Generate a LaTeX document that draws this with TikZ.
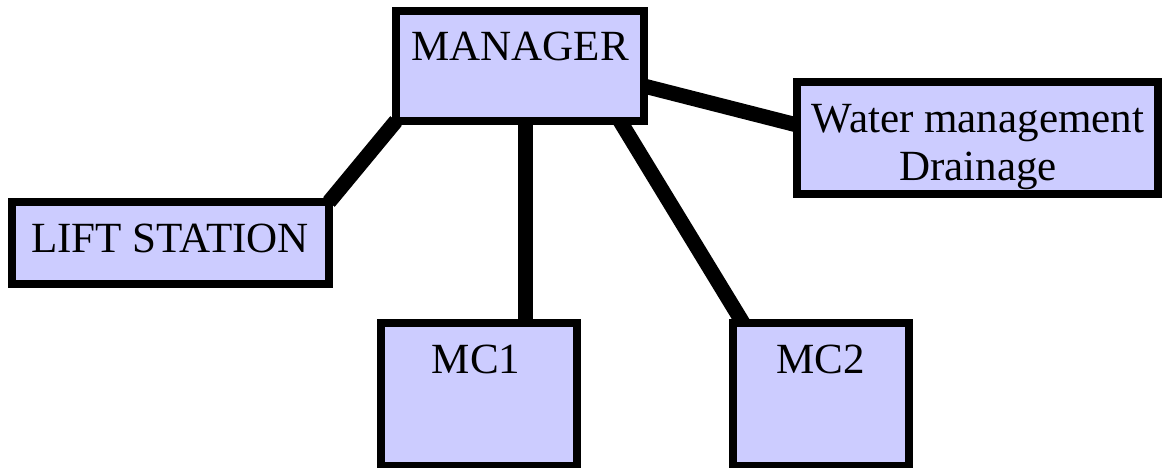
\documentclass[tikz,border=0pt]{standalone}
\usepackage{fontspec}
\setmainfont{Liberation Serif}
\usepackage{tikz}
\usetikzlibrary{calc,backgrounds}

\definecolor{boxfill}{RGB}{204,204,255}

\begin{document}
\begin{tikzpicture}[x=0.02cm, y=-0.02cm,
    every node/.style={font=\fontsize{24.5}{27.2}\selectfont},
    unitbox/.style={draw=black, fill=boxfill, line width=0.16cm, outer sep=0pt, inner sep=0pt},
    lbl/.style={inner sep=0pt, anchor=base, align=center},
    link/.style={line width=0.3cm}]
    \useasboundingbox (0,0) rectangle (1163,467);

    % Boxes
    \node[unitbox, minimum width=4.96cm, minimum height=2.2cm] (manager) at (520,66) {};
    \node[unitbox, minimum width=6.34cm, minimum height=1.64cm] (lift) at (170.5,243) {};
    \node[unitbox, minimum width=7.22cm, minimum height=2.24cm] (water) at (977.5,138) {};
    \node[unitbox, minimum width=3.92cm, minimum height=2.86cm] (mc1) at (479,394.5) {};
    \node[unitbox, minimum width=3.52cm, minimum height=2.86cm] (mc2) at (821,394.5) {};

    % Labels
    \node[lbl] (managertext) at (520,60) {MANAGER};
    \node[lbl] (lifttext) at (170,252) {LIFT STATION};
    \node[lbl] (watertext) at (978,132) {Water management};
    \node[lbl] (draintext) at (978,180) {Drainage};
    \node[lbl] (mc1text) at (476,373) {MC1};
    \node[lbl] (mc2text) at (820.5,373) {MC2};

    % Connectors (behind the boxes)
    \begin{pgfonlayer}{background}
        \coordinate (mcone) at ($(manager.south)+(5.5,0)$);
        \draw[link] (manager.south west) -- (lift.north east);
        \draw[link] (mcone) -- (mcone |- mc1.north);
        \draw[link] ($(manager.south east)+(-24,0)$) -- ($(mc2.north west)+(10,0)$);
        \draw[link] ($(manager.east)+(0,20)$) -- ($(water.west)+(0,-13)$);
    \end{pgfonlayer}
\end{tikzpicture}
\end{document}
